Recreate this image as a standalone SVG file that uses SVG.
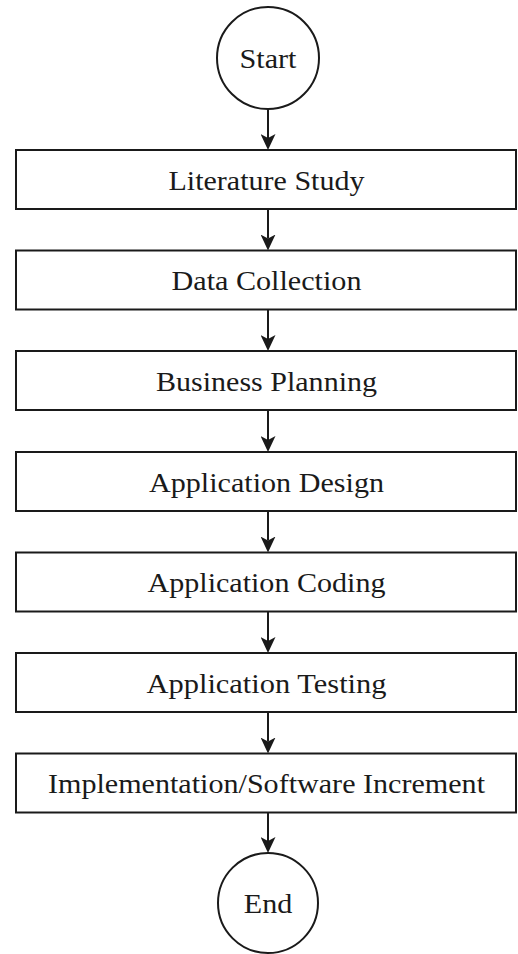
<svg xmlns="http://www.w3.org/2000/svg" width="518" height="954" viewBox="0 0 518 954">
  <style>
    .shape { fill: #ffffff; stroke: #1a1a1a; stroke-width: 2; }
    .label { font-family: "Liberation Serif", "Times New Roman", serif; font-size: 26.6px; fill: #1a1a1a; text-anchor: middle; }
    .edge { fill: none; stroke: #1a1a1a; stroke-width: 2; }
  </style>
  <defs>
    <marker id="arrow" markerUnits="userSpaceOnUse" markerWidth="16" markerHeight="15" viewBox="0 0 16 15" refX="4" refY="7.5" orient="auto">
      <path d="M0,0 L16,7.5 L0,15 L4,7.5 Z" fill="#1a1a1a"/>
    </marker>
  </defs>
  <rect width="518" height="954" fill="#ffffff"/>

  <g id="connectors">
    <line class="edge" x1="268" y1="109" x2="268" y2="138" marker-end="url(#arrow)"/>
    <line class="edge" x1="268" y1="209" x2="268" y2="238.5" marker-end="url(#arrow)"/>
    <line class="edge" x1="268" y1="309.5" x2="268" y2="339" marker-end="url(#arrow)"/>
    <line class="edge" x1="268" y1="410" x2="268" y2="440" marker-end="url(#arrow)"/>
    <line class="edge" x1="268" y1="511" x2="268" y2="540.5" marker-end="url(#arrow)"/>
    <line class="edge" x1="268" y1="611.5" x2="268" y2="641" marker-end="url(#arrow)"/>
    <line class="edge" x1="268" y1="712" x2="268" y2="741.5" marker-end="url(#arrow)"/>
    <line class="edge" x1="268" y1="812.5" x2="268" y2="841" marker-end="url(#arrow)"/>
  </g>

  <g id="start">
    <circle class="shape" cx="268" cy="58" r="51"/>
    <text class="label" x="268" y="68" textLength="57" lengthAdjust="spacingAndGlyphs">Start</text>
  </g>

  <g id="literature-study">
    <rect class="shape" x="16" y="150" width="500" height="59"/>
    <text class="label" x="266.5" y="189.5" textLength="196" lengthAdjust="spacingAndGlyphs">Literature Study</text>
  </g>

  <g id="data-collection">
    <rect class="shape" x="16" y="250.5" width="500" height="59"/>
    <text class="label" x="266.5" y="290" textLength="190" lengthAdjust="spacingAndGlyphs">Data Collection</text>
  </g>

  <g id="business-planning">
    <rect class="shape" x="16" y="351" width="500" height="59"/>
    <text class="label" x="266.5" y="390.5" textLength="221" lengthAdjust="spacingAndGlyphs">Business Planning</text>
  </g>

  <g id="application-design">
    <rect class="shape" x="16" y="452" width="500" height="59"/>
    <text class="label" x="266.5" y="491.5" textLength="235" lengthAdjust="spacingAndGlyphs">Application Design</text>
  </g>

  <g id="application-coding">
    <rect class="shape" x="16" y="552.5" width="500" height="59"/>
    <text class="label" x="266.5" y="592" textLength="238" lengthAdjust="spacingAndGlyphs">Application Coding</text>
  </g>

  <g id="application-testing">
    <rect class="shape" x="16" y="653" width="500" height="59"/>
    <text class="label" x="266.5" y="692.5" textLength="240" lengthAdjust="spacingAndGlyphs">Application Testing</text>
  </g>

  <g id="implementation">
    <rect class="shape" x="16" y="753.5" width="500" height="59"/>
    <text class="label" x="266.5" y="793" textLength="437" lengthAdjust="spacingAndGlyphs">Implementation/Software Increment</text>
  </g>

  <g id="end">
    <circle class="shape" cx="268" cy="903" r="50"/>
    <text class="label" x="268" y="913" textLength="48.5" lengthAdjust="spacingAndGlyphs">End</text>
  </g>
</svg>
